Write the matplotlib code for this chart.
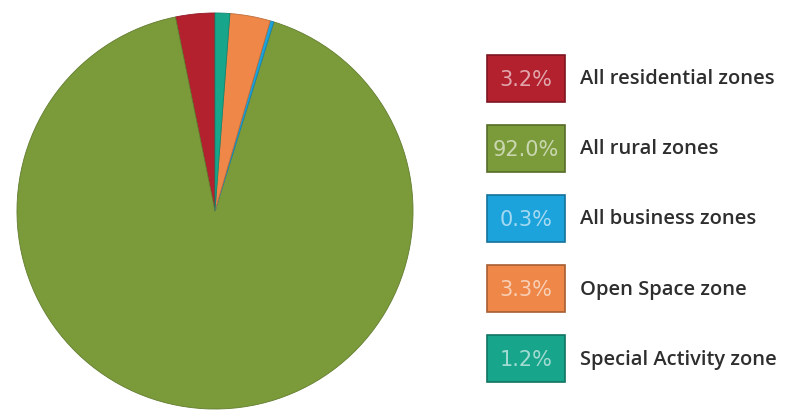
import matplotlib.pyplot as plt
from matplotlib.patches import Rectangle
from matplotlib.colors import to_rgb

# zone shares (percent), in pie order (counterclockwise from top)
zones = ["All residential zones", "All rural zones", "All business zones",
         "Open Space zone", "Special Activity zone"]
shares = [3.2, 92.0, 0.3, 3.3, 1.2]
colors = ["#b3202e", "#7b9b3b", "#1ca3dc", "#ee8747", "#17a68b"]


def darker(c, f=0.7):
    r, g, b = to_rgb(c)
    return (r * f, g * f, b * f)


W, H = 790, 418
fig = plt.figure(figsize=(W / 100, H / 100), dpi=100)

# pie axes, square in pixels
cx, cy, R = 215, 211, 200
ax = fig.add_axes([(cx - R) / W, (H - cy - R) / H, 2 * R / W, 2 * R / H])
wedges, _ = ax.pie(shares, colors=colors, startangle=90, counterclock=True,
                   radius=1.0, wedgeprops=dict(linewidth=0.6))
for w, c in zip(wedges, colors):
    w.set_edgecolor(darker(c, 0.8))
ax.set_xlim(-1.01, 1.01)
ax.set_ylim(-1.01, 1.01)
ax.axis("off")

# legend drawn in pixel coordinates
lg = fig.add_axes([0, 0, 1, 1])
lg.set_xlim(0, W)
lg.set_ylim(H, 0)
lg.axis("off")

bx, bw, bh = 487, 78, 47
y0, step = 55, 70
for i, (name, val, c) in enumerate(zip(zones, shares, colors)):
    y = y0 + i * step
    lg.add_patch(Rectangle((bx, y), bw, bh, facecolor=c,
                           edgecolor=darker(c, 0.7), linewidth=1.2))
    r, g, b = to_rgb(c)
    tc = (r + (1 - r) * 0.6, g + (1 - g) * 0.6, b + (1 - b) * 0.6)
    lg.text(bx + bw / 2, y + bh / 2 + 1, f"{val:.1f}%", ha="center", va="center",
            fontsize=15, color=tc, family="DejaVu Sans")
    lg.text(580, y + bh / 2 + 1, name, ha="left", va="center",
            fontsize=14.5, color="#2e2e2e", family="Open Sans", weight="semibold")

fig.savefig("out.png", dpi=100)
